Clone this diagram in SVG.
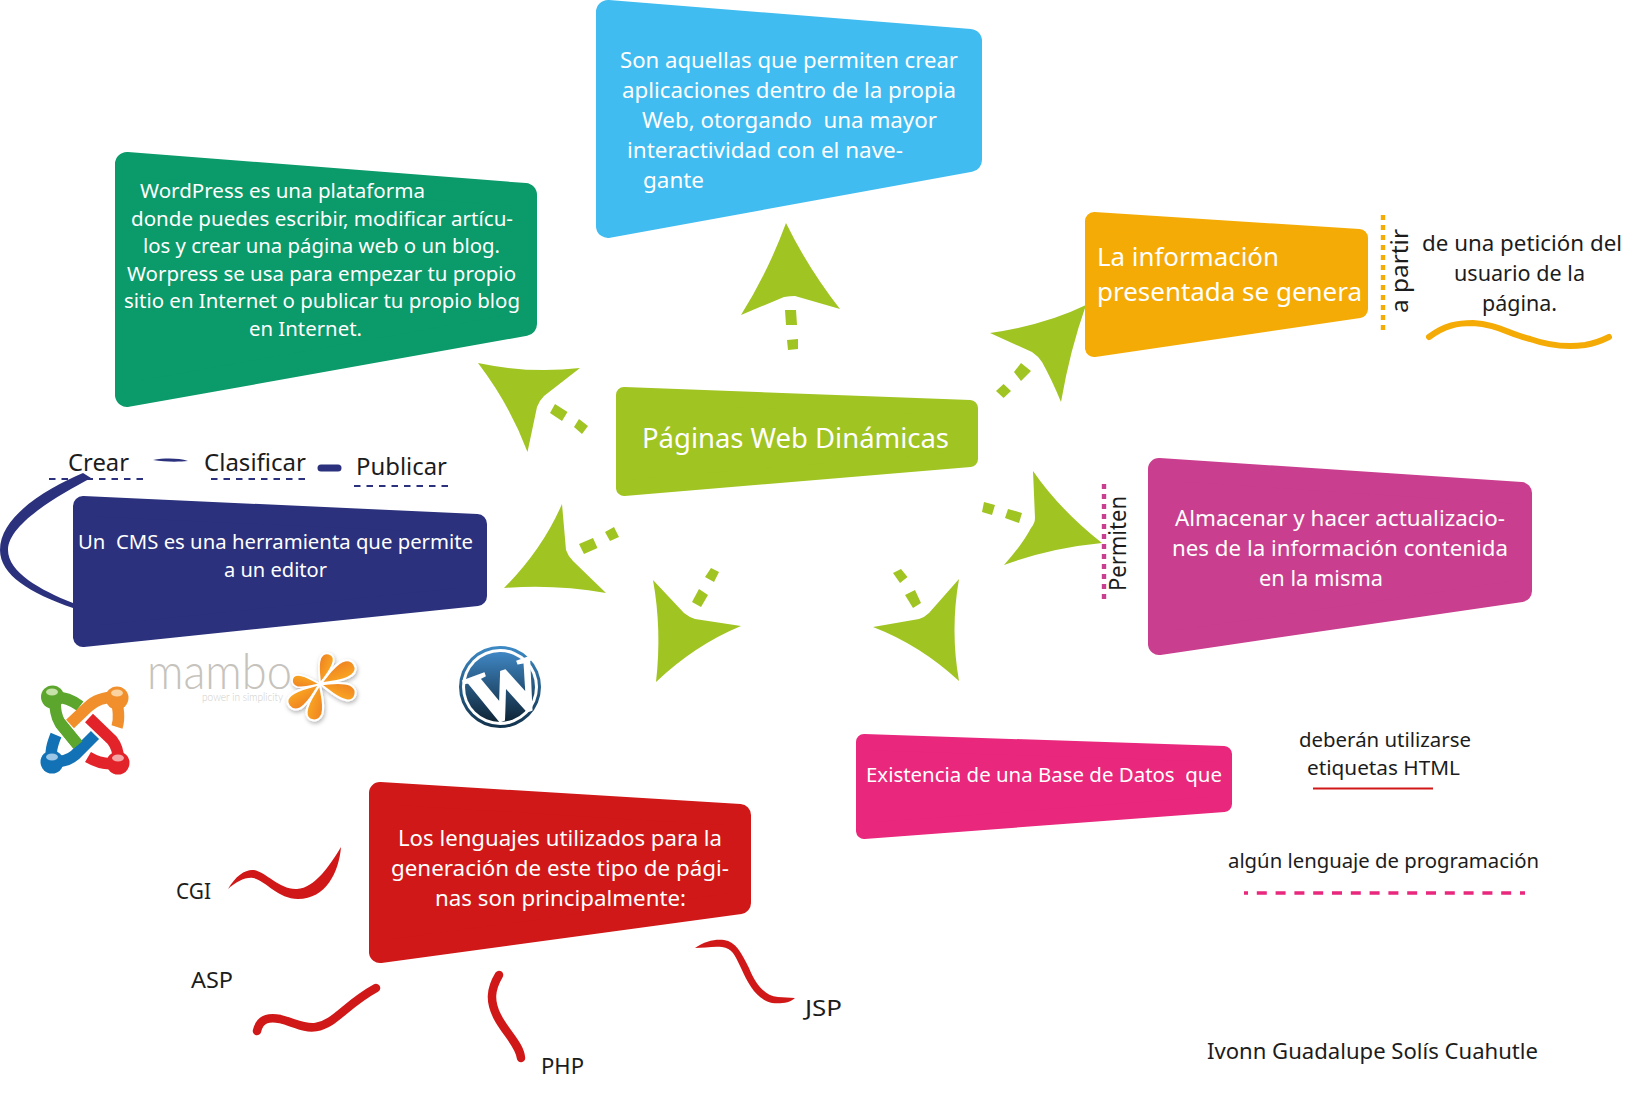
<svg xmlns="http://www.w3.org/2000/svg" width="1628" height="1096" viewBox="0 0 1628 1096">
<style>
text{font-family:"Noto Sans","Open Sans",sans-serif;white-space:pre}
.w{fill:#fff}.k{fill:#1c1c1c}
.s{stroke-linejoin:round}
.green{fill:#a0c422;stroke:#a0c422;stroke-width:16}
.blue{fill:#41bcf0;stroke:#41bcf0;stroke-width:24}
.teal{fill:#0b9a6a;stroke:#0b9a6a;stroke-width:24}
.orange{fill:#f5ab05;stroke:#f5ab05;stroke-width:18}
.magenta{fill:#c93e8e;stroke:#c93e8e;stroke-width:22}
.navy{fill:#2b317c;stroke:#2b317c;stroke-width:20}
.red{fill:#d01818;stroke:#d01818;stroke-width:22}
.pink{fill:#e8277d;stroke:#e8277d;stroke-width:16}
.a{fill:#a0c422}
.nd{fill:none;stroke:#2b317c;stroke-width:2;stroke-dasharray:6.5 6}
.rs{fill:none;stroke:#d01818;stroke-width:8.5;stroke-linecap:round}
.rf{fill:#d01818}
.j{fill:none;stroke-width:11.5}
.pt{fill:url(#fl);stroke:#fff;stroke-width:2}
</style>
<defs>
<linearGradient id="fl" x1="0" y1="0" x2="0" y2="1"><stop offset="0" stop-color="#ef8324"/><stop offset="1" stop-color="#f9a623"/></linearGradient>
<linearGradient id="wp" x1="0" y1="0" x2="0" y2="1"><stop offset="0" stop-color="#3f87c4"/><stop offset="1" stop-color="#0e2436"/></linearGradient>
<linearGradient id="wr" x1="0" y1="0" x2="0" y2="1"><stop offset="0" stop-color="#3d8ac6"/><stop offset="1" stop-color="#12324c"/></linearGradient>
<filter id="sh" x="-20%" y="-20%" width="140%" height="140%"><feDropShadow dx="1" dy="2" stdDeviation="2" flood-color="#000" flood-opacity=".3"/></filter>
<path id="petal" d="M0,0 C8,-3 17,-10 27,-10 C37,-9 38,3 29,5 C20,7 9,2 0,0Z"/>
</defs>
<rect width="1628" height="1096" fill="#fff"/>

<g id="connectors">
<path class="a" d="M786,223 Q808,268 840,309 L795,296 Q790,296 784,297 L741,315 Q768,272 786,223Z"/>
<path class="a" d="M785,310 L796,310 L797,325 L786,325Z M787,340 L798,339 L798,349 L788,350Z"/>
<path class="a" d="M478,363 Q530,374 580,368 L544,396 Q539,401 537,407 L527.5,452 Q510,405 478,363Z"/>
<path class="a" d="M555,404 L567.5,412 L562,421 L550,413Z M579,419 L588,426 L582,434 L574,427Z"/>
<path class="a" d="M562,504 Q542,550 504,588 Q555,584 606,593 L573,561 Q568,556 566,550Z"/>
<path class="a" d="M593,538 L597.5,548 L584,554 L579,544Z M614,527 L619,537 L610,541 L605,532Z"/>
<path class="a" d="M653,580 Q662,630 656,682 Q695,645 741,626 L695,619 Q689,617 684,613Z"/>
<path class="a" d="M711,568 L719,572 L714,582 L705,577Z M699,589 L708,595 L701,607 L692,602Z"/>
<path class="a" d="M959,579 Q950,630 959,681 Q920,645 873,627 L919,619 Q925,617 929,613Z"/>
<path class="a" d="M901,569 L907.5,577 L900,583 L893,573Z M915,590 L921,603 L913,608 L905,595Z"/>
<path class="a" d="M1033,471 Q1060,510 1102,543 Q1050,548 1004,565 Q1022,545 1031,528 Q1035,523 1035,518Z"/>
<path class="a" d="M984,502 L995,505 L992,515 L982,512Z M1008,509 L1022,513 L1019,523 L1005,518Z"/>
<path class="a" d="M1086,305 Q1070,350 1061,402 Q1052,380 1042,362 Q1038,356 1032,352 L990,333 Q1045,325 1086,305Z"/>
<path class="a" d="M1003.6,384 L1011,391 L1003.6,398 L996,391Z M1021,363 L1031,371 L1021,381 L1014,372Z"/>
<path d="M83,473 C50,487 0,515 0,550 C0,575 30,593 73,608 L73,603 C40,590 8,572 8,550 C8,525 55,497 91,478Z" fill="#2b317c"/>
<path d="M153,460 C165,458 178,458 188,461 C178,462 165,462 153,460Z" fill="#2b317c"/>
<path d="M321,468 L338,468" fill="none" stroke="#2b317c" stroke-width="7" stroke-linecap="round"/>
<path class="nd" d="M49,479 H143 M211,479 H305 M354,486 H448"/>
<path d="M1383,215 V335" fill="none" stroke="#f5ab05" stroke-width="4.4" stroke-dasharray="5 5"/>
<path d="M1429,337 C1445,325 1458,323 1473,323 C1495,324 1510,334 1530,339 C1550,346 1570,347 1585,345 C1597,343 1603,340 1609,337" fill="none" stroke="#f5ab05" stroke-width="6" stroke-linecap="round"/>
<path d="M1104,484 V603" fill="none" stroke="#c93e8e" stroke-width="4.4" stroke-dasharray="5 5"/>
<path d="M1313,788.500 H1433" fill="none" stroke="#d01818" stroke-width="2"/>
<path d="M1244,893 H1525" fill="none" stroke="#e8277d" stroke-width="3.500" stroke-dasharray="10 8.8" stroke-dashoffset="6"/>
<path class="rf" d="M228,889 C236,875 246,869 254,870 C266,872 280,890 297,889 C315,888 330,865 341,847 C339,872 326,899 298,899 C278,899 265,880 253,878 C245,877 236,882 228,889Z"/>
<path class="rs" d="M257,1031 C260,1018 270,1017 280,1019 C295,1023 305,1029 316,1027 C335,1024 345,1005 376,988"/>
<path class="rs" d="M499,975 C490,990 490,1002 497,1016 C505,1032 520,1045 521,1058"/>
<path class="rf" d="M695,948 C705,941 715,939 724,940 C736,942 741,952 749,968 C756,985 765,996 778,997 L795,998 C790,1003 780,1004 772,1003 C757,999 749,986 741,968 C735,955 732,948 722,947 C714,946 703,948 695,948Z"/>
</g>

<g id="node-centro"><polygon class="s green" points="624,395 970,408 970,459 624,488"/>
<text class="w" x="642" y="448" font-size="27" textLength="307" lengthAdjust="spacingAndGlyphs">Páginas Web Dinámicas</text></g>

<g id="node-aplicaciones"><polygon class="s blue" points="608,12 970,41 970,160 608,226"/>
<g class="w" font-size="22">
<text x="620" y="68" textLength="338" lengthAdjust="spacingAndGlyphs">Son aquellas que permiten crear</text>
<text x="622" y="98" textLength="334" lengthAdjust="spacingAndGlyphs">aplicaciones dentro de la propia</text>
<text x="642" y="128" textLength="295" lengthAdjust="spacingAndGlyphs">Web, otorgando  una mayor</text>
<text x="627" y="158" textLength="276" lengthAdjust="spacingAndGlyphs">interactividad con el nave-</text>
<text x="643" y="188" textLength="61" lengthAdjust="spacingAndGlyphs">gante</text>
</g></g>

<g id="node-wordpress"><polygon class="s teal" points="127,164 525,195 525,324 127,395"/>
<g class="w" font-size="20.500">
<text x="140" y="198" textLength="285" lengthAdjust="spacingAndGlyphs">WordPress es una plataforma</text>
<text x="131" y="226" textLength="382" lengthAdjust="spacingAndGlyphs">donde puedes escribir, modificar artícu-</text>
<text x="143" y="253" textLength="357" lengthAdjust="spacingAndGlyphs">los y crear una página web o un blog.</text>
<text x="127" y="281" textLength="389" lengthAdjust="spacingAndGlyphs">Worpress se usa para empezar tu propio</text>
<text x="124" y="308" textLength="396" lengthAdjust="spacingAndGlyphs">sitio en Internet o publicar tu propio blog</text>
<text x="249" y="336" textLength="113" lengthAdjust="spacingAndGlyphs">en Internet.</text>
</g></g>

<g id="node-informacion"><polygon class="s orange" points="1094,221 1359,238 1359,309 1094,348"/>
<g class="w" font-size="25">
<text x="1097" y="266" textLength="182" lengthAdjust="spacingAndGlyphs">La información</text>
<text x="1097" y="301" textLength="265" lengthAdjust="spacingAndGlyphs">presentada se genera</text>
</g></g>

<g id="label-a-partir">
<text class="k" transform="translate(1408,313) rotate(-90)" font-size="24" textLength="84" lengthAdjust="spacingAndGlyphs">a partir</text>
<g class="k" font-size="21">
<text x="1422" y="251" textLength="200" lengthAdjust="spacingAndGlyphs">de una petición del</text>
<text x="1454" y="281" textLength="131" lengthAdjust="spacingAndGlyphs">usuario de la</text>
<text x="1482" y="311" textLength="75" lengthAdjust="spacingAndGlyphs">página.</text>
</g></g>

<g id="node-almacenar"><polygon class="s magenta" points="1159,469 1521,493 1521,591 1159,644"/>
<g class="w" font-size="22">
<text x="1175" y="526" textLength="330" lengthAdjust="spacingAndGlyphs">Almacenar y hacer actualizacio-</text>
<text x="1172" y="556" textLength="336" lengthAdjust="spacingAndGlyphs">nes de la información contenida</text>
<text x="1259" y="586" textLength="124" lengthAdjust="spacingAndGlyphs">en la misma</text>
</g></g>
<g id="label-permiten"><text class="k" transform="translate(1126,591) rotate(-90)" font-size="24" textLength="95" lengthAdjust="spacingAndGlyphs">Permiten</text></g>

<g id="node-cms"><polygon class="s navy" points="83,506 477,524 477,596 83,637"/>
<g class="w" font-size="20">
<text x="78" y="549" textLength="395" lengthAdjust="spacingAndGlyphs">Un  CMS es una herramienta que permite</text>
<text x="224" y="577" textLength="103" lengthAdjust="spacingAndGlyphs">a un editor</text>
</g></g>
<g id="label-crear" class="k" font-size="23.500">
<text x="68" y="471" textLength="61" lengthAdjust="spacingAndGlyphs">Crear</text>
<text x="204" y="471" textLength="102" lengthAdjust="spacingAndGlyphs">Clasificar</text>
<text x="356" y="475" textLength="91" lengthAdjust="spacingAndGlyphs">Publicar</text>
</g>

<g id="node-lenguajes"><polygon class="s red" points="380,793 740,815 740,903 380,952"/>
<g class="w" font-size="22">
<text x="398" y="846" textLength="324" lengthAdjust="spacingAndGlyphs">Los lenguajes utilizados para la</text>
<text x="391" y="876" textLength="338" lengthAdjust="spacingAndGlyphs">generación de este tipo de pági-</text>
<text x="435" y="906" textLength="251" lengthAdjust="spacingAndGlyphs">nas son principalmente:</text>
</g></g>
<g id="label-lenguajes" class="k" font-size="21">
<text x="176" y="899" textLength="35" lengthAdjust="spacingAndGlyphs">CGI</text>
<text x="191" y="988" textLength="42" lengthAdjust="spacingAndGlyphs">ASP</text>
<text x="541" y="1074" textLength="43" lengthAdjust="spacingAndGlyphs">PHP</text>
<text x="805" y="1016" textLength="37" lengthAdjust="spacingAndGlyphs">JSP</text>
</g>

<g id="node-bd"><polygon class="s pink" points="864,742 1224,754 1224,804 864,831"/>
<text class="w" x="866" y="782" font-size="20" textLength="356" lengthAdjust="spacingAndGlyphs">Existencia de una Base de Datos  que</text></g>
<g id="label-bd" class="k" font-size="20.500">
<text x="1299" y="747" textLength="172" lengthAdjust="spacingAndGlyphs">deberán utilizarse</text>
<text x="1307" y="775" textLength="153" lengthAdjust="spacingAndGlyphs">etiquetas HTML</text>
<text x="1228" y="868" textLength="311" lengthAdjust="spacingAndGlyphs">algún lenguaje de programación</text>
<text x="1207" y="1059" font-size="21.500" textLength="331" lengthAdjust="spacingAndGlyphs">Ivonn Guadalupe Solís Cuahutle</text>
</g>

<g id="logo-joomla">
<path class="j" stroke="#5ca62d" d="M80,706 C72,700 64,697 55,697 C55,710 56,716 60,723 L78,745"/>
<path class="j" stroke="#f08f2b" d="M70,724 L88,707 C96,699 106,697 116,697 C118,708 120,718 117,727"/>
<path class="j" stroke="#e2242a" d="M89,718 L112,740 C118,748 119,755 118,763 C108,765 98,763 88,757"/>
<path class="j" stroke="#1272b5" d="M95,735 L75,755 C68,761 60,762 52,762 C50,752 52,745 56,735"/>
<path fill="none" stroke="#5ca62d" stroke-width="11.500" d="M60,723 L78,745"/>
<circle cx="52.500" cy="697" r="11.500" fill="#5ca62d"/><circle cx="117" cy="698" r="11.500" fill="#f08f2b"/>
<circle cx="52" cy="762" r="11.500" fill="#1272b5"/><circle cx="118" cy="763" r="11.500" fill="#e2242a"/>
<ellipse cx="52" cy="692" rx="6" ry="3.500" fill="#c6e2a8"/><ellipse cx="117" cy="693" rx="6" ry="3.500" fill="#fbd3a0"/>
<ellipse cx="52" cy="757" rx="6" ry="3.500" fill="#9cc6e6"/><ellipse cx="118" cy="758" rx="6" ry="3.500" fill="#f4a6a6"/>
</g>

<g id="logo-mambo">
<text x="147" y="689" font-size="50" fill="#c6c3bd" style="font-family:Lato,'Noto Sans',sans-serif;font-weight:300" textLength="145" lengthAdjust="spacingAndGlyphs">mambo</text>
<text x="202" y="701" font-size="11" fill="#d0cec9" style="font-family:Lato,'Noto Sans',sans-serif;font-weight:300" textLength="81" lengthAdjust="spacingAndGlyphs">power in simplicity</text>
<g filter="url(#sh)">
<use href="#petal" class="pt" transform="translate(320,684) rotate(-69) scale(.9)"/>
<use href="#petal" class="pt" transform="translate(320,684) rotate(-25) scale(1.12)"/>
<use href="#petal" class="pt" transform="translate(320,684) rotate(22) scale(1.05)"/>
<use href="#petal" class="pt" transform="translate(320,684) rotate(106) scale(1.05)"/>
<use href="#petal" class="pt" transform="translate(320,684) rotate(149) scale(1.08)"/>
<use href="#petal" class="pt" transform="translate(320,684) rotate(193) scale(.8)"/>
</g></g>

<g id="logo-wordpress">
<circle cx="500" cy="687" r="41" fill="url(#wr)"/>
<circle cx="500" cy="687" r="38" fill="#fff"/>
<circle cx="500" cy="687" r="35" fill="url(#wp)"/>
<text transform="translate(479,728) rotate(-20)" font-size="76" fill="#fff" stroke="#fff" stroke-width="1.500" font-weight="700" style="font-family:'Liberation Serif',serif">W</text>
</g>
</svg>
